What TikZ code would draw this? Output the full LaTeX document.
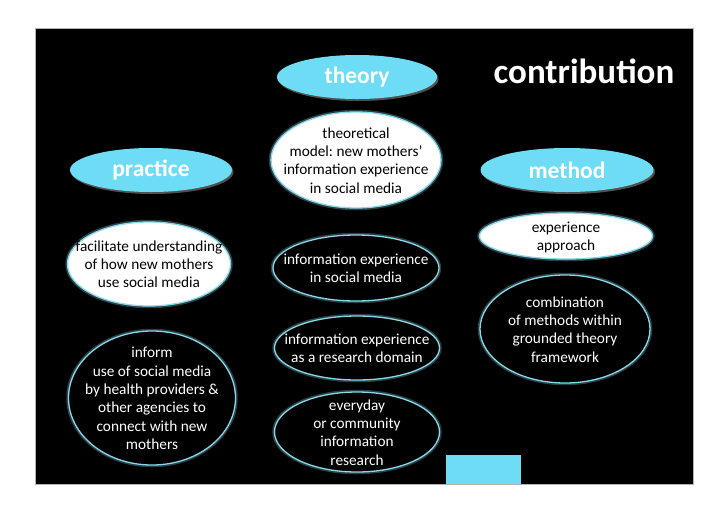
\documentclass[tikz,border=0pt]{standalone}
\usepackage{fontspec}
\setmainfont{Carlito}
\usetikzlibrary{shapes.geometric,shadows}
\definecolor{headc}{HTML}{6FDCF5}
\definecolor{glowc}{HTML}{8AD8EA}
\frenchspacing
\newcommand{\ctext}[1]{\smash{\makebox[0pt]{\raisebox{-5.5pt}{\begin{tabular}{@{}c@{}}#1\end{tabular}}}}}
\begin{document}
\begin{tikzpicture}[x=1pt,y=-1pt,
  glow/.style={preaction={draw=glowc,line width=4.5pt,opacity=0.3}},
  bodytext/.style={font=\fontsize{15.3}{18.3}\selectfont,inner sep=0pt},
  whiteell/.style={ellipse,fill=white,draw=glowc,line width=1.3pt,glow,text=black,bodytext},
  blackell/.style={ellipse,fill=black,draw=glowc,line width=1.3pt,glow,text=white,bodytext},
  head/.style={ellipse,fill=headc,draw=none,text=white,inner sep=0pt,
    font=\bfseries\fontsize{23.5}{28}\selectfont,
    drop shadow={fill=gray!60,opacity=0.45,shadow xshift=1.5pt,shadow yshift=-2pt}},
  title/.style={text=white,font=\bfseries\fontsize{35}{40}\selectfont,inner sep=0pt}]
\useasboundingbox (0,0) rectangle (728,515);
\fill[white] (0,0) rectangle (728,515);
\fill[black,draw=gray!60,line width=0.6pt] (35,28) rectangle (693,484);

\node[title] (contrib) at (584,71) {contribution};

\node[head,minimum width=160,minimum height=44] (theory) at (357,77) {theory};
\node[head,minimum width=162,minimum height=44] (practice) at (151,170) {practice};
\node[head,minimum width=173,minimum height=44] (method) at (567,170) {method};

\node[whiteell,minimum width=170,minimum height=96] (model) at (356,160)
  {\ctext{theoretical\\model: new mothers’\\information experience\\in social media}};
\node[whiteell,minimum width=163,minimum height=84] (facil) at (149,264)
  {\ctext{facilitate understanding\\of how new mothers\\use social media}};
\node[whiteell,minimum width=173,minimum height=46] (approach) at (566,236)
  {\ctext{experience\\approach}};

\node[blackell,minimum width=166,minimum height=66] (iesm) at (356,268)
  {\ctext{information experience\\in social media}};
\node[blackell,minimum width=170,minimum height=108] (comb) at (565,329)
  {\ctext{combination\\of methods within\\grounded theory\\framework}};
\node[blackell,minimum width=167,minimum height=134] (inform) at (152,398)
  {\ctext{inform\\use of social media\\by health providers \&\\other agencies to\\connect with new\\mothers}};
\node[blackell,minimum width=165,minimum height=64] (domain) at (357,348)
  {\ctext{information experience\\as a research domain}};
\node[blackell,minimum width=165,minimum height=80] (everyday) at (357,432)
  {\ctext{everyday\\or community\\information\\research}};

\fill[headc] (446,455) rectangle (521,484);
\end{tikzpicture}
\end{document}
